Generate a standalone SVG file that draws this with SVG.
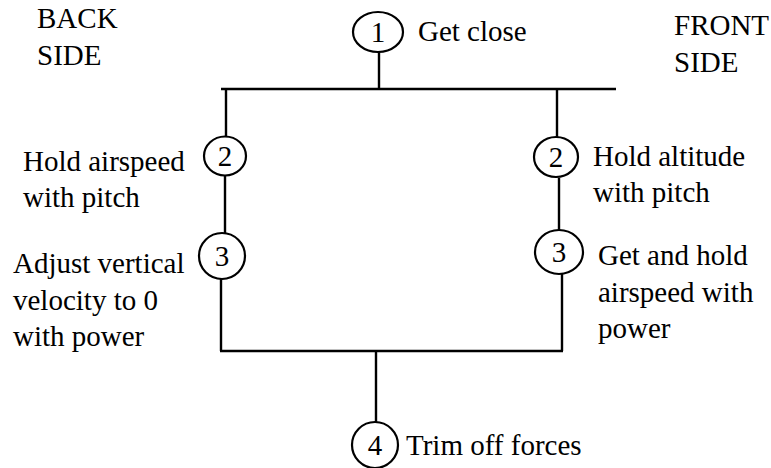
<svg xmlns="http://www.w3.org/2000/svg" width="771" height="468" viewBox="0 0 771 468">
<style>
text{font-family:"Liberation Serif","Times New Roman",serif;font-size:29px;fill:#000}
.n{text-anchor:middle}
.c{fill:none;stroke:#000;stroke-width:2.2}
.l{fill:none;stroke:#000;stroke-width:2.4}
</style>
<rect width="771" height="468" fill="#fff"/>
<g id="labels">
<text x="37" y="28">BACK</text>
<text x="37" y="65">SIDE</text>
<text x="674" y="35">FRONT</text>
<text x="674" y="72">SIDE</text>
</g>
<g id="connectors">
<path class="l" d="M379 52V89M221 89H616M226 89V136M557 89V137M225 175V233M559 178V230M221 279V351M562 274V351M220 351H563M376 351V422"/>
</g>
<g id="n1">
<ellipse class="c" cx="378" cy="32" rx="25" ry="20"/>
<text class="n" x="378" y="42">1</text>
<text x="418" y="41">Get close</text>
</g>
<g id="n2l">
<ellipse class="c" cx="225" cy="156" rx="21" ry="19.5"/>
<text class="n" x="225" y="166">2</text>
<text x="23" y="171">Hold airspeed</text>
<text x="23" y="207">with pitch</text>
</g>
<g id="n3l">
<ellipse class="c" cx="222" cy="256" rx="23" ry="23"/>
<text class="n" x="222" y="266">3</text>
<text x="13" y="273">Adjust vertical</text>
<text x="13" y="310">velocity to 0</text>
<text x="13" y="346">with power</text>
</g>
<g id="n2r">
<ellipse class="c" cx="556" cy="157" rx="22" ry="20"/>
<text class="n" x="556" y="167">2</text>
<text x="593" y="166">Hold altitude</text>
<text x="593" y="202">with pitch</text>
</g>
<g id="n3r">
<ellipse class="c" cx="559" cy="252" rx="24" ry="22"/>
<text class="n" x="559" y="262">3</text>
<text x="598" y="265">Get and hold</text>
<text x="598" y="302">airspeed with</text>
<text x="598" y="338">power</text>
</g>
<g id="n4">
<ellipse class="c" cx="375" cy="445" rx="23" ry="23"/>
<text class="n" x="375" y="455">4</text>
<text x="406" y="455">Trim off forces</text>
</g>
</svg>
